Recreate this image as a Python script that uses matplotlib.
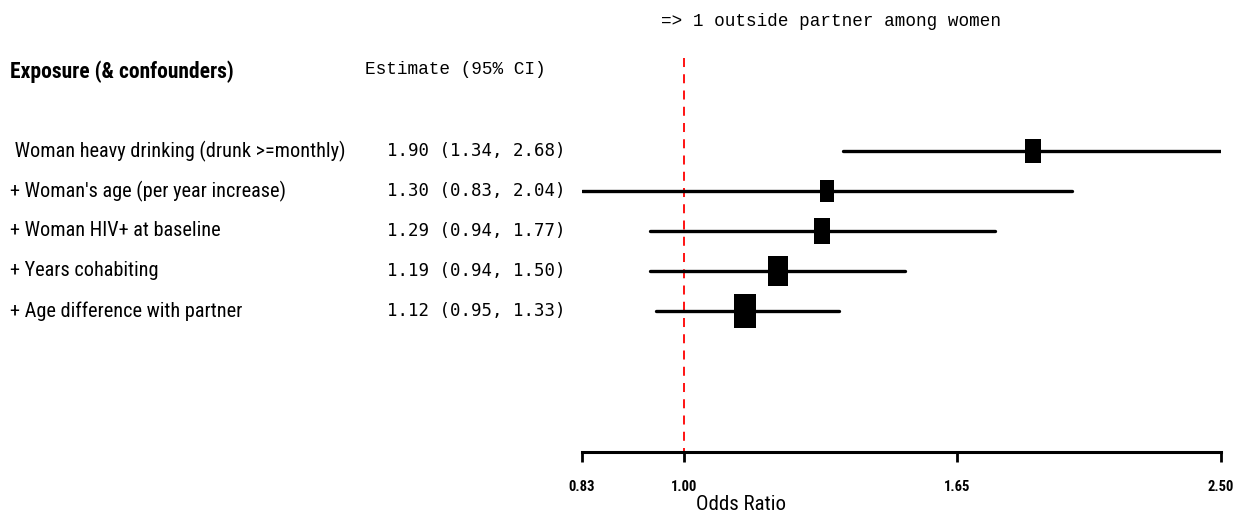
import matplotlib
matplotlib.use("Agg")
import matplotlib.pyplot as plt
from matplotlib.path import Path
from matplotlib.transforms import blended_transform_factory
from matplotlib import font_manager

# ---- data ----
labels = [" Woman heavy drinking (drunk >=monthly)",
          "+ Woman's age (per year increase)",
          "+ Woman HIV+ at baseline",
          "+ Years cohabiting",
          "+ Age difference with partner"]
estimates = [1.90, 1.30, 1.29, 1.19, 1.12]
lower = [1.34, 0.83, 0.94, 0.94, 0.95]
upper = [2.68, 2.04, 1.77, 1.50, 1.33]
tick_positions = [0.83, 1.00, 1.65, 2.68]
tick_labels = ["0.83", "1.00", "1.65", "2.50"]
title = "=> 1 outside partner among women"
col_header_left = "Exposure (& confounders)"
col_header_right = "Estimate (95% CI)"
xlabel = "Odds Ratio"

# ---- style ----
box_heights_px = [24, 22, 26, 30, 34]
W, H = 1241, 529

avail = {f.name for f in font_manager.fontManager.ttflist}
narrow = ['Liberation Sans Narrow', 'Roboto Condensed', 'Liberation Sans', 'DejaVu Sans']
narrow = [f for f in narrow if f in avail] or ['DejaVu Sans']
mono_serif = [f for f in ['Liberation Mono', 'DejaVu Sans Mono'] if f in avail]
mono_sans = [f for f in ['DejaVu Sans Mono', 'Liberation Mono'] if f in avail]

fig = plt.figure(figsize=(W / 100, H / 100), dpi=100)
x0, x1 = 582, 1221
ax = fig.add_axes([x0 / W, 1 - 452 / H, (x1 - x0) / W, 452 / H])
ax.set_xscale('log')
ax.set_xlim(0.83, 2.68)

def row_y(px):
    return (px - 151) / 40.0 + 1

ax.set_ylim(row_y(452), row_y(0))

rows = list(range(1, len(labels) + 1))

# reference line
ax.plot([1.0, 1.0], [row_y(58), row_y(452)], color='red', lw=1.3,
        ls=(0, (5, 4)), zorder=1, clip_on=False)

# CI lines
for y, lo, hi in zip(rows, lower, upper):
    ax.plot([lo, hi], [y, y], color='black', lw=2.4, solid_capstyle='round', zorder=2)

# boxes
aspect = 0.64
rect = Path([(-aspect / 2, -0.5), (aspect / 2, -0.5), (aspect / 2, 0.5),
             (-aspect / 2, 0.5), (-aspect / 2, -0.5)],
            [Path.MOVETO, Path.LINETO, Path.LINETO, Path.LINETO, Path.CLOSEPOLY])
for y, e, hpx in zip(rows, estimates, box_heights_px):
    ax.plot([e], [y], marker=rect, markersize=hpx * 0.72, color='black',
            markeredgewidth=0, zorder=3)

# axes styling
for s in ['top', 'right', 'left']:
    ax.spines[s].set_visible(False)
ax.spines['bottom'].set_linewidth(2.2)
ax.set_yticks([])
ax.set_xticks(tick_positions)
ax.set_xticks([], minor=True)
ax.set_xticklabels(tick_labels, fontfamily=narrow, fontsize=10.5, fontweight='bold')
ax.tick_params(axis='x', direction='out', length=7, width=2.0, pad=13)
ax.patch.set_visible(False)

# text columns
tr = blended_transform_factory(fig.transFigure, ax.transData)
for y, lab, e, lo, hi in zip(rows, labels, estimates, lower, upper):
    ax.text(10 / W, y, lab, transform=tr, ha='left', va='center',
            fontfamily=narrow, fontsize=14.6)
    ax.text(387 / W, y, f"{e:.2f} ({lo:.2f}, {hi:.2f})", transform=tr,
            ha='left', va='center', fontfamily=mono_sans, fontsize=12.55)

ax.text(10 / W, row_y(72), col_header_left, transform=tr, ha='left', va='center',
        fontfamily=narrow, fontsize=15.5, fontweight='bold')
ax.text(365 / W, row_y(70), col_header_right, transform=tr, ha='left', va='center',
        fontfamily=mono_serif, fontsize=12.8)

fig.text(831 / W, 1 - 22 / H, title, ha='center', va='center',
         fontfamily=mono_serif, fontsize=12.7)
fig.text(741 / W, 1 - 505 / H, xlabel, ha='center', va='center',
         fontfamily=narrow, fontsize=15)

fig.savefig("out.png", dpi=100, facecolor='white')
